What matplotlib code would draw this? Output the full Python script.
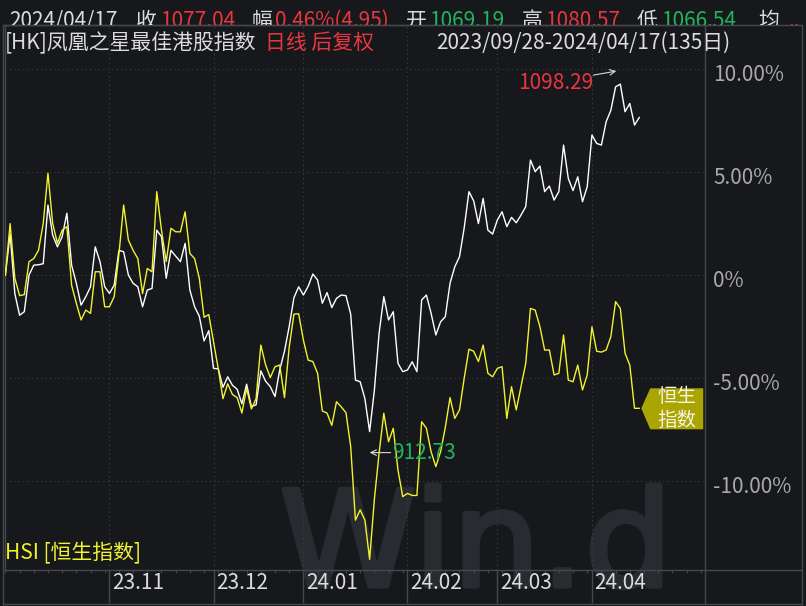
import matplotlib.pyplot as plt
import matplotlib.transforms as mtransforms
from matplotlib.patches import Polygon, PathPatch
from matplotlib.textpath import TextPath
from matplotlib.font_manager import FontProperties
from matplotlib.lines import Line2D
import numpy as np

plt.rcParams['font.family'] = ['Noto Sans CJK SC', 'DejaVu Sans']

# 涨跌幅(%), 第0天 = 2023/09/28, 共135个交易日
fenghuang = [0, 2.0, -0.9, -1.95, -1.78, 0.0, 0.48, 0.5, 0.55, 3.4,
             1.94, 1.37, 1.86, 3.0, 0.48, -0.4, -1.46, -1.05, -0.57, 1.37,
             0.65, -0.57, -0.89, -0.49, 1.2, 1.13, 0.0, -0.4, -0.57, -1.54,
             -0.73, -0.65, 2.18, 1.86, -0.16, 1.2, 0.92, 0.65, 1.54, -0.73,
             -1.54, -2.0, -3.2, -2.7, -4.53, -4.55, -5.45, -4.94, -5.35, -5.55,
             -6.25, -5.3, -6.39, -6.3, -4.65, -5.15, -5.42, -5.9, -4.6, -3.7,
             -2.5, -1.1, -0.57, -0.97, -0.55, 0.05, -0.24, -1.37, -0.85, -1.58,
             -1.13, -0.97, -1.0, -1.9, -5.1, -5.18, -6.0, -7.6, -5.6, -2.83,
             -1.05, -2.18, -1.78, -4.29, -4.69, -4.61, -4.21, -4.69, -1.21, -0.97,
             -1.86, -2.91, -2.27, -2.02, -0.4, 0.4, 0.89, 2.3, 4.05, 3.6,
             2.5, 3.72, 2.18, 1.99, 2.67, 3.07, 2.35, 2.8, 2.54, 2.91,
             3.32, 5.58, 5.02, 5.29, 4.05, 4.32, 3.64, 4.05, 6.31, 4.69,
             4.1, 4.77, 3.56, 4.29, 6.8, 6.39, 6.31, 7.44, 8.0, 9.14,
             9.27, 7.93, 8.33, 7.28, 7.65]
hsi = [0, 2.5, -0.15, -1.0, -0.95, 0.65, 0.8, 1.2, 2.5, 4.94,
       2.5, 1.55, 2.18, 2.35, -0.49, -1.37, -2.18, -1.7, -1.86, 0.16,
       0.16, -1.54, -1.54, -1.05, 1.0, 3.4, 1.7, 1.2, 0.8, -0.9,
       0.32, 0.16, 4.05, 2.18, 0.65, 2.27, 2.1, 2.1, 3.07, 1.05,
       0.8, -0.16, -2.05, -1.92, -3.25, -4.55, -6.0, -5.28, -5.8, -5.95,
       -6.7, -5.5, -6.5, -6.0, -3.4, -4.35, -4.98, -4.45, -4.37, -5.95,
       -3.5, -1.9, -1.88, -3.16, -4.13, -4.2, -4.77, -6.6, -6.7, -7.3,
       -6.15, -6.4, -6.68, -8.33, -11.9, -11.4, -11.9, -13.8, -10.9, -8.65,
       -6.71, -8.09, -7.44, -9.47, -10.76, -10.6, -10.7, -10.7, -7.12, -7.44,
       -8.58, -9.3, -8.58, -7.4, -5.95, -6.96, -6.55, -5.0, -3.6, -3.7,
       -4.2, -3.4, -4.77, -4.94, -4.53, -4.45, -6.96, -5.42, -6.55, -5.42,
       -4.29, -1.62, -1.7, -2.51, -3.64, -3.64, -4.85, -4.77, -2.91, -5.1,
       -5.18, -4.37, -5.58, -4.85, -2.51, -3.7, -3.74, -3.64, -2.99, -1.29,
       -1.62, -3.8, -4.37, -6.47, -6.47]

month_idx = [22, 44, 63, 85, 104, 124]
month_labels = ['23.11', '23.12', '24.01', '24.02', '24.03', '24.04']
pct_ticks = [10, 5, 0, -5, -10]
pct_labels = ['10.00%', '5.00%', '0%', '-5.00%', '-10.00%']
hi_label = '1098.29'
lo_label = '912.73'

BG = '#16181c'
GRID = '#3d4046'
LINE = '#45484e'
RED = '#e8363f'
GREEN = '#22b45c'
TXT = '#dcdcdc'
YEL = '#f2f22e'
W, H = 806, 606

fig = plt.figure(figsize=(W / 100, H / 100), dpi=100, facecolor=BG)
ax = fig.add_axes([5 / W, 36 / H, 700 / W, 545 / H], facecolor=BG)

x = np.arange(len(fenghuang))
ax.plot(x, fenghuang, color='white', lw=1.0, zorder=3)
ax.plot(x, hsi, color=YEL, lw=1.0, zorder=3)

ax.set_xlim(-0.08, 147.9)
ax.set_ylim(-14.32, 12.14)
ax.set_xticks(month_idx)
ax.set_xticks(np.arange(0, 148, 3), minor=True)
ax.set_yticks(pct_ticks)
ax.grid(True, color=GRID, ls=(0, (1, 3)), lw=0.8)
ax.tick_params(axis='x', which='major', direction='out', length=24, width=1,
               color=LINE, labelbottom=False)
ax.tick_params(axis='x', which='minor', direction='out', length=2.5, width=0.8,
               color=LINE)
ax.tick_params(axis='y', length=0, labelleft=False)
for s in ax.spines.values():
    s.set_color(LINE)
    s.set_linewidth(1)

# 月份标签
xlab_tr = mtransforms.blended_transform_factory(ax.transData, ax.transAxes)
for m, lab in zip(month_idx, month_labels):
    ax.text(m + 0.55, -13 / 545, lab, transform=xlab_tr, ha='left', va='center',
            color=TXT, fontsize=15, clip_on=False)

# 右侧百分比
ylab_tr = mtransforms.blended_transform_factory(ax.transAxes, ax.transData) + \
    mtransforms.ScaledTranslation(0, -6 / 100, fig.dpi_scale_trans)
for v, lab in zip(pct_ticks, pct_labels):
    ax.text(1 + 8 / 700, v, lab, transform=ylab_tr, ha='left', va='center',
            color='#a9a9a9', fontsize=15, clip_on=False)

# 外框
def px(xp, yp):
    return xp / W, 1 - yp / H

for (x0, y0), (x1, y1) in [((3, 25), (802, 25)), ((705, 570), (802, 570)),
                           ((802, 25), (802, 604)), ((3, 604), (802, 604)),
                           ((3, 25), (3, 604)), ((705, 570), (705, 604))]:
    a, b = px(x0, y0)
    c, d = px(x1, y1)
    fig.add_artist(Line2D([a, c], [b, d], color=LINE, lw=1))

# 水印
tp = TextPath((0, 0), 'Win.d', size=100, prop=FontProperties(family='DejaVu Sans'))
bb = tp.get_extents()
sx = (660 - 284) / bb.width
sy = (588 - 485) / bb.height
wm_tr = mtransforms.Affine2D().translate(-bb.x0, -bb.y0).scale(sx, sy).translate(284, H - 588)
ax.add_patch(PathPatch(tp, transform=wm_tr, facecolor='#282b2f', edgecolor='#282b2f',
                       lw=3.5, joinstyle='round', zorder=0.5, clip_on=False))

# 最高 / 最低标注
imax = int(np.argmax(fenghuang))
imin = int(np.argmin(fenghuang))
t_hi = fig.dpi_scale_trans + mtransforms.ScaledTranslation(imax, fenghuang[imax], ax.transData)
ax.text(-0.27, 0.01, hi_label, transform=t_hi, ha='right', va='center', color=RED, fontsize=15)
ax.annotate('', xy=(-0.04, 0.13), xycoords=t_hi, xytext=(-0.27, 0.09), textcoords=t_hi,
            arrowprops=dict(arrowstyle='->', color='#d8d8d8', lw=0.8, shrinkA=0, shrinkB=0))
t_lo = fig.dpi_scale_trans + mtransforms.ScaledTranslation(imin, fenghuang[imin], ax.transData)
ax.text(0.23, -0.21, lo_label, transform=t_lo, ha='left', va='center', color=GREEN, fontsize=15)
ax.annotate('', xy=(0.0, -0.21), xycoords=t_lo, xytext=(0.21, -0.21), textcoords=t_lo,
            arrowprops=dict(arrowstyle='->', color='#d8d8d8', lw=0.8, shrinkA=0, shrinkB=0))

# 恒生指数 标签
t_tag = fig.dpi_scale_trans + mtransforms.ScaledTranslation(x[-1], hsi[-1], ax.transData)
tag = Polygon(np.array([[2, 0], [11, 20], [64, 20], [64, -21], [11, -21]]) / 100,
              closed=True, transform=t_tag, facecolor='#aaa500', edgecolor='none',
              zorder=4, clip_on=False)
ax.add_patch(tag)
ax.text(0.375, 0.0, '恒生\n指数', transform=t_tag, ha='center', va='center',
        color='#f4f4e8', fontsize=14, linespacing=1.15, zorder=5)

# 标题行 (第一行被下方框线截断)
row1 = [('2024/04/17', 9, TXT), ('收', 136, TXT), ('1077.04', 160, RED),
        ('幅', 252, TXT), ('0.46%(4.95)', 275, RED), ('开', 406, TXT),
        ('1069.19', 429, GREEN), ('高', 522, TXT), ('1080.57', 545, RED),
        ('低', 637, TXT), ('1066.54', 661, GREEN), ('均', 758, TXT), ('..', 789, RED)]
clip = mtransforms.TransformedBbox(mtransforms.Bbox([[0, 1 - 25 / H], [1, 1]]), fig.transFigure)
for s, xp, c in row1:
    t = fig.text(xp / W, 1 - 27 / H, s, color=c, fontsize=15, ha='left', va='baseline')
    t.set_clip_box(clip)
    t.set_clip_on(True)

fig.text(5 / W, 1 - 43 / H, '[HK]凤凰之星最佳港股指数', color=TXT, fontsize=15, ha='left', va='center')
fig.text(265 / W, 1 - 43 / H, '日线 后复权', color=RED, fontsize=15, ha='left', va='center')
fig.text(436 / W, 1 - 43 / H, '2023/09/28-2024/04/17(135日)', color=TXT, fontsize=15,
         ha='left', va='center')
fig.text(5 / W, 1 - 553 / H, 'HSI [恒生指数]', color=YEL, fontsize=15, ha='left', va='center')

fig.savefig('out.png', dpi=100, facecolor=BG)
